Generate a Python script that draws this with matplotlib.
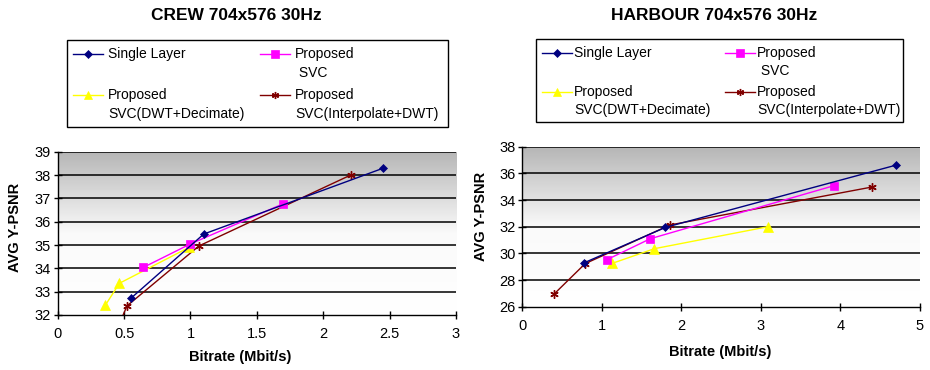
import numpy as np
import matplotlib
matplotlib.use("Agg")
import matplotlib.pyplot as plt
from matplotlib.colors import LinearSegmentedColormap
from matplotlib.lines import Line2D
from matplotlib.patches import Rectangle

plt.rcParams['font.family'] = ['Liberation Sans', 'DejaVu Sans']

# ---------------- data ----------------
series_labels = ["Single Layer", "Proposed\n SVC", "Proposed\nSVC(DWT+Decimate)",
                 "Proposed\nSVC(Interpolate+DWT)"]

crew_single_x = [0.55, 1.10, 2.45]
crew_single_y = [32.71, 35.47, 38.29]
crew_svc_x = [0.645, 0.997, 1.695]
crew_svc_y = [34.04, 35.04, 36.76]
crew_dwt_x = [0.36, 0.465, 0.99]
crew_dwt_y = [32.43, 33.36, 34.90]
crew_interp_x = [0.44, 0.522, 1.064, 2.207]
crew_interp_y = [31.3, 32.39, 34.96, 38.00]

harb_single_x = [0.78, 1.80, 4.70]
harb_single_y = [29.30, 31.95, 36.62]
harb_svc_x = [1.065, 1.61, 3.92]
harb_svc_y = [29.53, 31.10, 35.08]
harb_dwt_x = [1.13, 1.66, 3.09]
harb_dwt_y = [29.25, 30.35, 32.00]
harb_interp_x = [0.40, 0.79, 1.857, 4.40]
harb_interp_y = [26.95, 29.23, 32.13, 34.98]

crew_yticks = [32, 33, 34, 35, 36, 37, 38, 39]
crew_xticks = [0, 0.5, 1, 1.5, 2, 2.5, 3]
harb_yticks = [26, 28, 30, 32, 34, 36, 38]
harb_xticks = [0, 1, 2, 3, 4, 5]

titles = ["CREW 704x576 30Hz", "HARBOUR 704x576 30Hz"]
xlabel = "Bitrate (Mbit/s)"
ylabel = "AVG Y-PSNR"

colors = ["#000080", "#FF00FF", "#FFFF00", "#800000"]
markers = ["D", "s", "^", (6, 2, 0)]
msizes = [4.5, 6, 7, 6]
mews = [0.5, 0.5, 0.5, 1.0]

W, H = 930, 370
fig = plt.figure(figsize=(W / 100, H / 100), dpi=100)

def px_axes(x0, y0, x1, y1):
    return fig.add_axes([x0 / W, 1 - y1 / H, (x1 - x0) / W, (y1 - y0) / H])

ax1 = px_axes(57.7, 151.7, 456, 315)
ax2 = px_axes(522.3, 146.7, 920, 306.7)

cmap = LinearSegmentedColormap.from_list("g", ["#ffffff", "#fafafa", "#b6b6b6"])
grad = np.linspace(0, 1, 256).reshape(-1, 1)

def style(ax, xs_list, ys_list, xticks, yticks):
    ax.imshow(grad, aspect='auto', cmap=cmap, origin='lower',
              extent=[0, 1, 0, 1], transform=ax.transAxes, zorder=0)
    for i, (xs, ys) in enumerate(zip(xs_list, ys_list)):
        ax.plot(xs, ys, color=colors[i], marker=markers[i], ms=msizes[i],
                lw=1.0, mew=mews[i], mec=colors[i], zorder=3 + (3 - i) * 0.1,
                clip_on=True)
    ax.set_xlim(xticks[0], xticks[-1])
    ax.set_ylim(yticks[0], yticks[-1])
    ax.set_xticks(xticks)
    ax.set_xticklabels([f"{t:g}" for t in xticks])
    ax.set_yticks(yticks)
    ax.set_yticklabels([f"{t:g}" for t in yticks])
    for t in yticks[1:]:
        ax.axhline(t, color="black", lw=1.1, zorder=1)
    for s in ["top", "right"]:
        ax.spines[s].set_visible(False)
    for s in ["left", "bottom"]:
        ax.spines[s].set_color("black")
        ax.spines[s].set_linewidth(1.0)
    ax.tick_params(axis='both', direction='inout', length=6, width=1.0,
                   labelsize=10.5, colors='black')
    ax.tick_params(axis='y', pad=2)
    ax.tick_params(axis='x', pad=6)

style(ax1, [crew_single_x, crew_svc_x, crew_dwt_x, crew_interp_x],
      [crew_single_y, crew_svc_y, crew_dwt_y, crew_interp_y], crew_xticks, crew_yticks)
style(ax2, [harb_single_x, harb_svc_x, harb_dwt_x, harb_interp_x],
      [harb_single_y, harb_svc_y, harb_dwt_y, harb_interp_y], harb_xticks, harb_yticks)

def fx(x):
    return x / W

def fy(y):
    return 1 - y / H

def ftext(x, y, s, **kw):
    fig.text(fx(x), fy(y), s, **kw)

ftext(236, 16, titles[0], ha='center', va='center', fontsize=12.5, fontweight='bold')
ftext(714, 15, titles[1], ha='center', va='center', fontsize=12.5, fontweight='bold')
ftext(240, 357, xlabel, ha='center', va='center', fontsize=10.5, fontweight='bold')
ftext(720, 352, xlabel, ha='center', va='center', fontsize=10.5, fontweight='bold')
ftext(15, 227, ylabel, ha='center', va='center', fontsize=10.5, fontweight='bold', rotation=90)
ftext(481, 216, ylabel, ha='center', va='center', fontsize=10.5, fontweight='bold', rotation=90)

def legend(box, col2, rows, pitch, hlen, gap):
    x0, y0, x1, y1 = box
    fig.add_artist(Rectangle((fx(x0), fy(y1)), (x1 - x0) / W, (y1 - y0) / H,
                             transform=fig.transFigure, fill=False,
                             edgecolor='black', lw=1.0))
    cols = [6, col2]
    for i, lab in enumerate(series_labels):
        r, c = divmod(i, 2)
        hx0 = x0 + cols[c]
        hx1 = hx0 + hlen
        yy = y0 + rows[r]
        fig.add_artist(Line2D([fx(hx0), fx(hx1)], [fy(yy), fy(yy)],
                              transform=fig.transFigure, color=colors[i], lw=1.0))
        fig.add_artist(Line2D([fx((hx0 + hx1) / 2)], [fy(yy)],
                              transform=fig.transFigure, color=colors[i],
                              marker=markers[i], ms=msizes[i] * 0.85, mew=mews[i],
                              mec=colors[i], lw=0))
        for k, line in enumerate(lab.split("\n")):
            ftext(hx1 + gap, yy + k * pitch, line, ha='left', va='center', fontsize=10)

legend((67, 40, 448, 126.7), 193, [14, 55], 18.7, 30, 5)
legend((536, 39.3, 903, 121.7), 189, [13.4, 52.4], 18.3, 30, 2)

fig.savefig("out.png", dpi=100)
